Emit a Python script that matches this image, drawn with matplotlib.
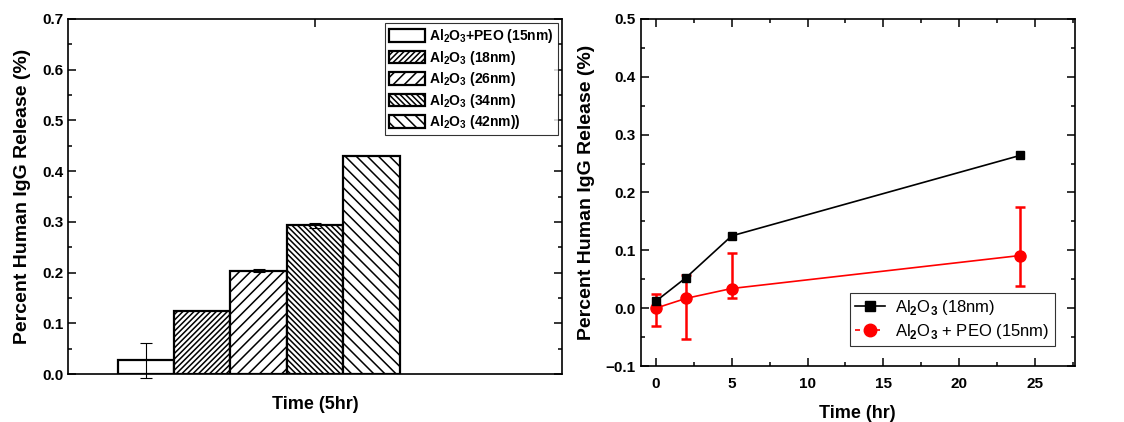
"""
IgG release: bar chart at 5 hr and release curve over time
"""
import matplotlib
matplotlib.use("Agg")
from matplotlib import pyplot
from matplotlib.lines import Line2D
from matplotlib.ticker import MultipleLocator

pyplot.rcParams["font.family"] = ["Liberation Sans", "DejaVu Sans"]
pyplot.rcParams["font.weight"] = "bold"
pyplot.rcParams["mathtext.fontset"] = "custom"
pyplot.rcParams["mathtext.rm"] = "Liberation Sans:bold"
pyplot.rcParams["mathtext.bf"] = "Liberation Sans:bold"
pyplot.rcParams["hatch.linewidth"] = 1.1

# left panel: release at 5 hr
bar_labels = ["Al$_2$O$_3$+PEO (15nm)", "Al$_2$O$_3$ (18nm)", "Al$_2$O$_3$ (26nm)",
              "Al$_2$O$_3$ (34nm)", "Al$_2$O$_3$ (42nm))"]
bar_pos = [1, 2, 3, 4, 5]
bar_values = [0.027, 0.125, 0.204, 0.293, 0.430]
bar_err = [0.034, 0.0, 0.003, 0.005, 0.0]
bar_hatches = ["", "//////", "///", "\\\\\\\\\\\\", "\\\\\\"]

# right panel: release over time
time_hr = [0, 2, 5, 24]
al2o3_vals = [0.012, 0.053, 0.125, 0.264]
al2o3_err = [0.002, 0.003, 0.003, 0.004]
peo_vals = [0.0, 0.017, 0.034, 0.091]
peo_err_low = [0.031, 0.071, 0.016, 0.052]
peo_err_high = [0.025, 0.040, 0.062, 0.084]

fig = pyplot.figure(figsize=(11.24, 4.22), dpi=100)
ax1 = fig.add_axes([0.0605, 0.1137, 0.4395, 0.8413])
ax2 = fig.add_axes([0.570, 0.1327, 0.386, 0.8223])

for ax in (ax1, ax2):
    for sp in ax.spines.values():
        sp.set_linewidth(1.2)
    ax.tick_params(which="both", direction="in", top=True, right=True,
                   width=1.1, labelsize=11)
    ax.tick_params(which="major", length=6)
    ax.tick_params(which="minor", length=3)

# bars
for i in range(len(bar_values)):
    ax1.bar(bar_pos[i], bar_values[i], width=1.0, color="white",
            edgecolor="black", linewidth=1.6, hatch=bar_hatches[i],
            label=bar_labels[i], zorder=2)
    if bar_err[i] > 0:
        eb = ax1.errorbar(bar_pos[i], bar_values[i], yerr=bar_err[i], fmt="none",
                          ecolor="black", elinewidth=0.8, capsize=4,
                          capthick=0.8, zorder=3)
        for art in eb.get_children():
            art.set_clip_on(False)
ax1.set_xlim(-0.38, 8.38)
ax1.set_ylim(0, 0.7)
ax1.set_xticks([4])
ax1.set_xticklabels([""])
ax1.yaxis.set_major_locator(MultipleLocator(0.1))
ax1.yaxis.set_minor_locator(MultipleLocator(0.05))
ax1.set_ylabel("Percent Human IgG Release (%)", fontsize=14, fontweight="bold",
               labelpad=8)
ax1.set_xlabel("Time (5hr)", fontsize=13, fontweight="bold", labelpad=12)
leg1 = ax1.legend(loc="upper right", fontsize=10, frameon=True, fancybox=False,
                  edgecolor="black", borderpad=0.3, labelspacing=0.25,
                  handlelength=2.6, handleheight=1.0, handletextpad=0.3,
                  borderaxespad=0.3)
leg1.get_frame().set_linewidth(0.8)

# curves
ax2.errorbar(time_hr, al2o3_vals, yerr=al2o3_err, color="black", marker="s",
             markersize=6, linewidth=1.2, elinewidth=1.0, capsize=2, zorder=3)
ax2.errorbar(time_hr, peo_vals, yerr=[peo_err_low, peo_err_high], color="red",
             marker="o", markersize=8, linewidth=1.2, elinewidth=1.8,
             capsize=3.5, capthick=1.8, zorder=2)
ax2.set_xlim(-1, 27.6)
ax2.set_ylim(-0.1, 0.5)
ax2.xaxis.set_major_locator(MultipleLocator(5))
ax2.xaxis.set_minor_locator(MultipleLocator(2.5))
ax2.yaxis.set_major_locator(MultipleLocator(0.1))
ax2.yaxis.set_minor_locator(MultipleLocator(0.05))
ax2.set_ylabel("Percent Human IgG Release (%)", fontsize=14, fontweight="bold",
               labelpad=8)
ax2.set_xlabel("Time (hr)", fontsize=13, fontweight="bold", labelpad=10)
ax2.tick_params(axis="x", pad=8)
pyplot.rcParams["mathtext.rm"] = "Liberation Sans"
handles = [
    Line2D([], [], color="black", marker="s", markersize=7, linewidth=1.2),
    Line2D([], [], color="red", marker="o", markersize=9, linewidth=1.2,
           dashes=(3, 3)),
]
leg2 = ax2.legend(handles, ["Al$_2$O$_3$ (18nm)", "Al$_2$O$_3$ + PEO (15nm)"],
                  loc="lower right", frameon=True, fancybox=False,
                  edgecolor="black", borderpad=0.3, labelspacing=0.3,
                  handlelength=1.8, handletextpad=0.6, borderaxespad=1.2,
                  prop={"weight": "normal", "size": 12})
leg2.get_frame().set_linewidth(0.8)

fig.savefig("out.png", dpi=100)
pyplot.close(fig)
